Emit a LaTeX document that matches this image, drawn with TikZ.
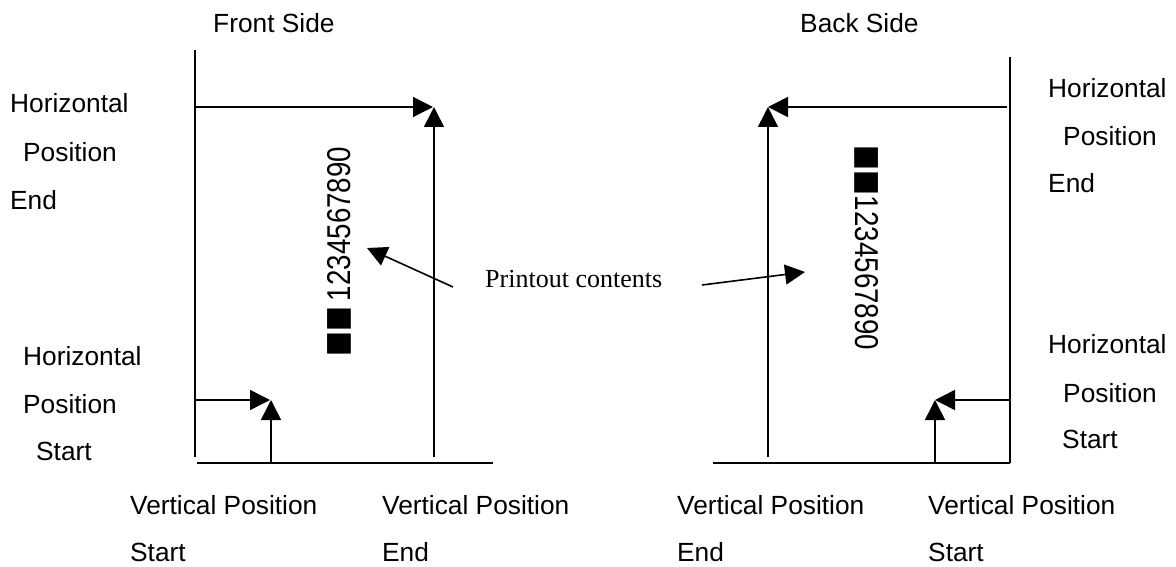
\documentclass[tikz,border=0pt]{standalone}
\usepackage{fontspec}
\setmainfont{Liberation Sans}
\newfontfamily\serifA{Liberation Serif}
\newfontfamily\digitfont[FakeStretch=0.84]{Liberation Sans}
\newfontfamily\sqfont[FakeStretch=0.85]{DejaVu Sans}
\usetikzlibrary{arrows.meta}
\newcommand{\sqpair}{\raisebox{3pt}{\sqfont\fontsize{31}{36}\selectfont ■■}}
\begin{document}
\begin{tikzpicture}[x=1pt,y=-1pt,
  ln/.style={line width=1.6pt},
  arr/.style={line width=1.6pt,-{Triangle[length=20pt,width=20pt]}},
  lab/.style={anchor=base west, inner sep=0pt, font=\fontsize{26.3}{30}\selectfont},
  ptext/.style={anchor=base west, inner sep=0pt, font=\fontsize{33}{36}\digitfont}]
\useasboundingbox (0,0) rectangle (1176,567);
% ---------- Front side ----------
\coordinate (fLT) at (195,50);
\coordinate (fLB) at (195,457);
\coordinate (fB1) at (197,463);
\coordinate (fB2) at (493,463);
\coordinate (fHe0) at (195,107);
\coordinate (fHe1) at (433,107);
\coordinate (fVe0) at (434,457);
\coordinate (fVe1) at (434,107);
\coordinate (fHs0) at (195,400);
\coordinate (fHs1) at (270,400);
\coordinate (fVs0) at (271,463);
\coordinate (fVs1) at (271,400);
\draw[ln] (fLT) -- (fLB);
\draw[ln] (fB1) -- (fB2);
\draw[arr] (fHe0) -- (fHe1);
\draw[arr] (fVe0) -- (fVe1);
\draw[arr] (fHs0) -- (fHs1);
\draw[arr] (fVs0) -- (fVs1);
\node[ptext, rotate=90] (fprint) at (350,357) {\sqpair\hspace{6pt}1234567890};
% ---------- Back side ----------
\coordinate (bRT) at (1010,57);
\coordinate (bRB) at (1010,463);
\coordinate (bB1) at (713,463);
\coordinate (bHe0) at (1007,107);
\coordinate (bHe1) at (768,107);
\coordinate (bVe0) at (768,457);
\coordinate (bVe1) at (768,107);
\coordinate (bHs0) at (1010,400);
\coordinate (bHs1) at (935,400);
\coordinate (bVs0) at (935,463);
\coordinate (bVs1) at (935,400);
\draw[ln] (bRT) -- (bRB);
\draw[ln] (bB1) -- (bRB);
\draw[arr] (bHe0) -- (bHe1);
\draw[arr] (bVe0) -- (bVe1);
\draw[arr] (bHs0) -- (bHs1);
\draw[arr] (bVs0) -- (bVs1);
\node[ptext, rotate=-90] (bprint) at (855,145) {\sqpair\hspace{1pt}1234567890};
% ---------- Printout contents ----------
\node[anchor=base west, inner sep=0pt, font=\fontsize{26}{30}\serifA] (pc) at (485,287) {Printout contents};
\coordinate (pcL) at (453,287);
\coordinate (pcLt) at (367,248);
\coordinate (pcR) at (702,285);
\coordinate (pcRt) at (805,272);
\draw[arr] (pcL) -- (pcLt);
\draw[arr] (pcR) -- (pcRt);
% ---------- Labels ----------
\node[lab] (fs) at (213,33) {Front Side};
\node[lab] (bs) at (800,33) {Back Side};
\node[lab] (fe1) at (10,113) {Horizontal};
\node[lab] (fe2) at (23,162) {Position};
\node[lab] (fe3) at (10,210) {End};
\node[lab] (fs1) at (23,365) {Horizontal};
\node[lab] (fs2) at (23,413) {Position};
\node[lab] (fs3) at (36,460) {Start};
\node[lab] (fv1) at (130,514) {Vertical Position};
\node[lab] (fv2) at (130,561) {Start};
\node[lab] (fw1) at (382,514) {Vertical Position};
\node[lab] (fw2) at (382,561) {End};
\node[lab] (bw1) at (677,514) {Vertical Position};
\node[lab] (bw2) at (677,561) {End};
\node[lab] (bv1) at (928,514) {Vertical Position};
\node[lab] (bv2) at (928,561) {Start};
\node[lab] (be1) at (1048,98) {Horizontal};
\node[lab] (be2) at (1063,146) {Position};
\node[lab] (be3) at (1048,193) {End};
\node[lab] (bs1) at (1048,353) {Horizontal};
\node[lab] (bs2) at (1063,402) {Position};
\node[lab] (bs3) at (1062,448) {Start};
\end{tikzpicture}
\end{document}
